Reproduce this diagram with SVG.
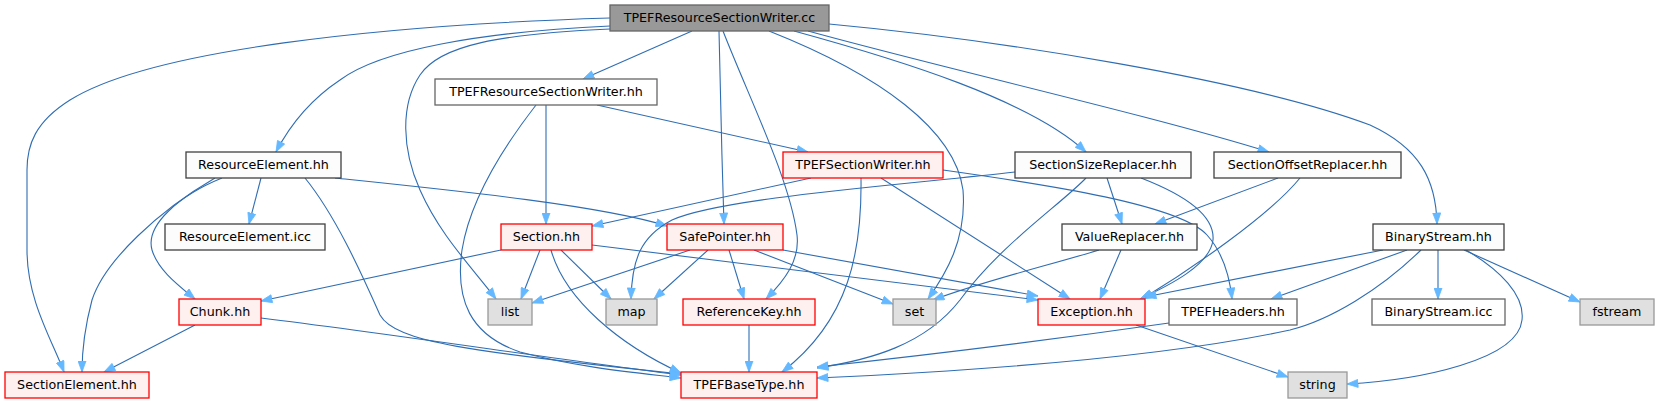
<svg xmlns="http://www.w3.org/2000/svg" width="1659" height="403" viewBox="0 0 1659 403">
<style>
text{font-family:"DejaVu Sans","Liberation Sans",sans-serif;font-size:12.7px;fill:#000;text-anchor:middle}
.n rect{stroke-width:1.3}
.root rect{fill:#999999;stroke:#666666}
.wd rect{fill:#fbfcfb;stroke:#404040}
.wl rect{fill:#ffffff;stroke:#666666}
.rd rect{fill:#fff0f0;stroke:#ff0000}
.gr rect{fill:#e0e0e0;stroke:#999999}
#edges path{fill:none;stroke:#2f6db2;stroke-width:1.1;marker-end:url(#a)}
</style>
<defs>
<marker id="a" markerWidth="12" markerHeight="9" refX="11.5" refY="4.5" orient="auto" markerUnits="userSpaceOnUse" viewBox="0 0 12 9">
<path d="M0.5,0.5 L11.5,4.5 L0.5,8.5 Z" fill="#63b8ff" stroke="#63b8ff" stroke-width="0.8"/>
</marker>
</defs>
<rect width="1659" height="403" fill="#ffffff"/>
<g id="edges">
<path d="M610,18 C380,25 150,50 70,100 C35,122 27,145 27,170 L27,250 C27,300 52,340 64,372"/>
<path d="M610,26 C480,32 380,50 340,80 C310,100 290,125 276,152"/>
<path d="M610,29 C500,34 440,45 420,75 C400,105 402,150 420,190 C440,235 470,265 496,299"/>
<path d="M692,31 L583,79"/>
<path d="M719,31 C720,90 722,160 724,224"/>
<path d="M723,31 C750,100 790,180 797,235 C800,260 785,280 766,299"/>
<path d="M769,31 C880,75 955,130 963,190 C967,240 945,275 928,299"/>
<path d="M794,31 C900,60 1030,100 1086,152"/>
<path d="M808,31 C950,70 1150,115 1269,152"/>
<path d="M829,24 C1000,40 1250,80 1370,125 C1420,148 1436,180 1437,224"/>
<path d="M546,105 L546,224"/>
<path d="M597,105 L808,152"/>
<path d="M536,105 C505,145 470,200 462,250 C455,300 470,335 520,352 C580,368 640,373 681,378"/>
<path d="M261,178 L249,224"/>
<path d="M222,178 C180,195 145,225 152,250 C158,270 178,285 195,299"/>
<path d="M215,178 C160,210 105,260 92,300 C84,330 82,350 82,372"/>
<path d="M305,178 C335,215 360,270 380,315 C395,342 470,352 681,374"/>
<path d="M335,178 C450,190 600,205 667,226"/>
<path d="M811,178 L592,226"/>
<path d="M881,178 L1070,299"/>
<path d="M861,178 C862,250 850,320 782,372"/>
<path d="M943,170 C1050,185 1180,205 1207,235 C1225,255 1230,280 1232,299"/>
<path d="M1107,178 L1122,224"/>
<path d="M1141,178 C1185,195 1215,215 1213,240 C1210,265 1170,285 1140,299"/>
<path d="M1015,172 C900,185 720,198 672,220 C640,237 632,260 631,299"/>
<path d="M1086,178 C1060,205 1000,245 960,300 C925,345 870,360 817,368"/>
<path d="M1278,178 L1155,224"/>
<path d="M1300,178 C1270,215 1190,270 1142,299"/>
<path d="M501,250 L261,301"/>
<path d="M540,250 L521,299"/>
<path d="M561,250 L611,299"/>
<path d="M551,250 C565,300 620,345 681,373"/>
<path d="M592,245 L1038,300"/>
<path d="M690,250 L532,303"/>
<path d="M708,250 L654,299"/>
<path d="M729,250 L744,299"/>
<path d="M754,250 L893,304"/>
<path d="M783,250 L1038,296"/>
<path d="M749,325 L749,372"/>
<path d="M1099,250 C1050,265 980,282 933,300"/>
<path d="M1121,250 L1100,299"/>
<path d="M1383,250 L1145,297"/>
<path d="M1407,250 L1271,299"/>
<path d="M1438,250 L1438,299"/>
<path d="M1464,250 L1580,302"/>
<path d="M1466,250 C1500,270 1525,295 1522,320 C1518,360 1420,380 1347,384"/>
<path d="M1421,250 C1380,290 1330,320 1290,330 C1150,360 950,372 817,378"/>
<path d="M1136,325 L1288,377"/>
<path d="M1169,323 C1050,340 900,358 817,367"/>
<path d="M195,325 L104,372"/>
<path d="M261,318 C400,335 560,360 681,375"/>
</g>
<g id="n_root" class="n root"><rect x="610" y="5" width="219" height="26"/><text x="719.5" y="22">TPEFResourceSectionWriter.cc</text></g>
<g id="n_trswhh" class="n wl"><rect x="435" y="79" width="222" height="26"/><text x="546" y="96">TPEFResourceSectionWriter.hh</text></g>
<g id="n_rehh" class="n wd"><rect x="186" y="152" width="155" height="26"/><text x="263.5" y="169">ResourceElement.hh</text></g>
<g id="n_tswhh" class="n rd"><rect x="783" y="152" width="160" height="26"/><text x="863" y="169">TPEFSectionWriter.hh</text></g>
<g id="n_ssr" class="n wd"><rect x="1015" y="152" width="176" height="26"/><text x="1103" y="169">SectionSizeReplacer.hh</text></g>
<g id="n_sor" class="n wd"><rect x="1214" y="152" width="187" height="26"/><text x="1307.5" y="169">SectionOffsetReplacer.hh</text></g>
<g id="n_reicc" class="n wd"><rect x="165" y="224" width="160" height="26"/><text x="245" y="241">ResourceElement.icc</text></g>
<g id="n_section" class="n rd"><rect x="501" y="224" width="91" height="26"/><text x="546.5" y="241">Section.hh</text></g>
<g id="n_safe" class="n rd"><rect x="667" y="224" width="116" height="26"/><text x="725" y="241">SafePointer.hh</text></g>
<g id="n_vr" class="n wd"><rect x="1062" y="224" width="135" height="26"/><text x="1129.5" y="241">ValueReplacer.hh</text></g>
<g id="n_bshh" class="n wd"><rect x="1373" y="224" width="131" height="26"/><text x="1438.5" y="241">BinaryStream.hh</text></g>
<g id="n_chunk" class="n rd"><rect x="179" y="299" width="82" height="26"/><text x="220" y="316">Chunk.hh</text></g>
<g id="n_list" class="n gr"><rect x="488" y="299" width="44" height="26"/><text x="510" y="316">list</text></g>
<g id="n_map" class="n gr"><rect x="606" y="299" width="51" height="26"/><text x="631.5" y="316">map</text></g>
<g id="n_refkey" class="n rd"><rect x="683" y="299" width="132" height="26"/><text x="749" y="316">ReferenceKey.hh</text></g>
<g id="n_set" class="n gr"><rect x="893" y="299" width="43" height="26"/><text x="914.5" y="316">set</text></g>
<g id="n_exc" class="n rd"><rect x="1038" y="299" width="107" height="26"/><text x="1091.5" y="316">Exception.hh</text></g>
<g id="n_hdr" class="n wl"><rect x="1169" y="299" width="128" height="26"/><text x="1233" y="316">TPEFHeaders.hh</text></g>
<g id="n_bsicc" class="n wl"><rect x="1372" y="299" width="133" height="26"/><text x="1438.5" y="316">BinaryStream.icc</text></g>
<g id="n_fstream" class="n gr"><rect x="1580" y="299" width="74" height="26"/><text x="1617" y="316">fstream</text></g>
<g id="n_secel" class="n rd"><rect x="5" y="372" width="144" height="26"/><text x="77" y="389">SectionElement.hh</text></g>
<g id="n_base" class="n rd"><rect x="681" y="372" width="136" height="26"/><text x="749" y="389">TPEFBaseType.hh</text></g>
<g id="n_string" class="n gr"><rect x="1288" y="372" width="59" height="26"/><text x="1317.5" y="389">string</text></g>
</svg>
